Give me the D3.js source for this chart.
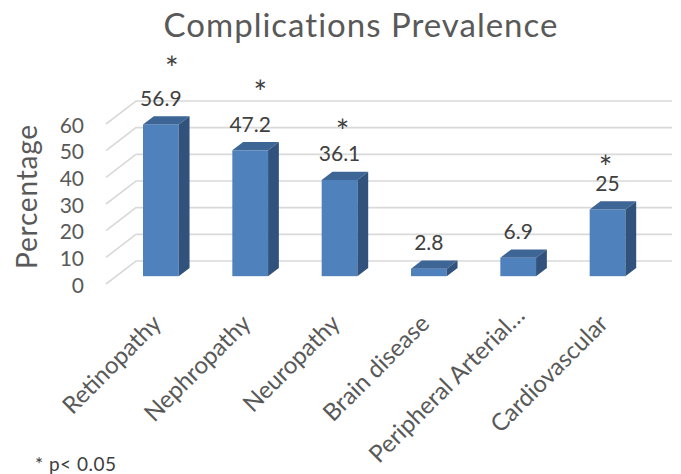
<!DOCTYPE html>
<html>
<head>
<meta charset="utf-8">
<script src="https://cdn.jsdelivr.net/npm/d3@7"></script>
<style>
  html, body { margin: 0; padding: 0; background: #fff; }
  svg { display: block; font-family: Lato, "Noto Sans", sans-serif; }
</style>
</head>
<body>
<svg id="chart" width="681" height="474"></svg>
<script>
// ---- data ----
const categories = ["Retinopathy", "Nephropathy", "Neuropathy", "Brain disease", "Peripheral Arterial\u2026", "Cardiovascular"];
const values = [56.9, 47.2, 36.1, 2.8, 6.9, 25];
const significant = [true, true, true, false, false, true];
const yTicks = [0, 10, 20, 30, 40, 50, 60];
const titleText = "Complications Prevalence";
const yTitle = "Percentage";
const footnote = "* p< 0.05";

// ---- layout ----
const svg = d3.select("#chart");
const depth = { x: 30, y: -23 };          // oblique offset of the back wall
const zFront = 0.34, zBack = 0.70;         // bar depth inside the plot box

const x = d3.scaleBand().domain(categories).range([106, 642])
  .paddingInner(0.6).paddingOuter(0.3);
const y = d3.scaleLinear().domain([0, 60]).range([284, 124]);

const colors = { front: "#4f81bd", top: "#3d6596", side: "#31527c", grid: "#d9d9d9" };

// gridlines: short diagonal on the side wall, then along the back wall
const gridG = svg.append("g");
gridG.selectAll("path").data(yTicks).join("path")
  .attr("fill", "none").attr("stroke", colors.grid).attr("stroke-width", 1.6)
  .attr("d", v => {
    const p = d3.path();
    p.moveTo(x.range()[0], y(v));
    p.lineTo(x.range()[0] + depth.x, y(v) + depth.y);
    p.lineTo(x.range()[1] + depth.x, y(v) + depth.y);
    return p.toString();
  });

// bars (front, top and side faces)
const bw = x.bandwidth();
const fx = d => x(d.c) + zFront * depth.x;
const fy = v => y(v) + zFront * depth.y;
const ddx = (zBack - zFront) * depth.x, ddy = (zBack - zFront) * depth.y;
const rows = categories.map((c, i) => ({ c, v: values[i], sig: significant[i] }));

const bars = svg.append("g").selectAll("g").data(rows).join("g");
bars.append("rect")
  .attr("x", d => fx(d)).attr("y", d => fy(d.v))
  .attr("width", bw).attr("height", d => fy(0) - fy(d.v))
  .attr("fill", colors.front);
bars.append("path").attr("fill", colors.top)
  .attr("d", d => {
    const x0 = fx(d), x1 = x0 + bw, yt = fy(d.v);
    return `M${x0},${yt}L${x1},${yt}L${x1 + ddx},${yt + ddy}L${x0 + ddx},${yt + ddy}Z`;
  });
bars.append("path").attr("fill", colors.side)
  .attr("d", d => {
    const x1 = fx(d) + bw, yt = fy(d.v), yb = fy(0);
    return `M${x1},${yt}L${x1 + ddx},${yt + ddy}L${x1 + ddx},${yb + ddy}L${x1},${yb}Z`;
  });

// value labels, with a significance asterisk set by hand above the marked ones
const labelGap = 18.5;
const starNudge = {
  "Retinopathy": [11, -26], "Nephropathy": [10, -28],
  "Neuropathy": [3, -18], "Cardiovascular": [-2, -12]
};
const labels = svg.append("g").selectAll("text").data(rows).join("text")
  .attr("text-anchor", "middle").attr("fill", "#404040");
labels.filter(d => d.sig).append("tspan")
  .attr("x", d => fx(d) + bw / 2 + starNudge[d.c][0])
  .attr("y", d => fy(d.v) - labelGap + starNudge[d.c][1])
  .attr("font-size", 32).text("*");
labels.append("tspan")
  .attr("x", d => fx(d) + bw / 2).attr("y", d => fy(d.v) - labelGap)
  .attr("font-size", 21).text(d => d.v);

// value axis labels
const yAxis = svg.append("g").attr("transform", "translate(84,1.5)")
  .call(d3.axisLeft(y).tickValues(yTicks).tickSize(0).tickPadding(0));
yAxis.select(".domain").remove();
yAxis.selectAll("text").attr("font-size", 21).attr("fill", "#595959")
  .attr("font-family", "Lato, sans-serif");

// category axis labels, rotated; the truncated one sits a little higher
const labelShift = { "Peripheral Arterial\u2026": [6, -8] };
const xAxis = svg.append("g").attr("transform", `translate(${zFront * depth.x},0)`)
  .call(d3.axisBottom(x).tickSize(0).tickPadding(0));
xAxis.select(".domain").remove();
xAxis.selectAll("text")
  .attr("font-size", 24).attr("fill", "#595959").attr("font-family", "Lato, sans-serif")
  .attr("text-anchor", "end").attr("dy", null).attr("y", null)
  .attr("transform", d => {
    const s = labelShift[d] || [0, 0];
    return `translate(${2 + s[0]},${325 + s[1]}) rotate(-45)`;
  });

// titles
svg.append("text").attr("x", 361).attr("y", 37).attr("text-anchor", "middle")
  .attr("font-size", 33).attr("letter-spacing", 1).attr("fill", "#595959").text(titleText);
svg.append("text").attr("transform", "translate(37,196.5) rotate(-90)")
  .attr("text-anchor", "middle").attr("font-size", 28).attr("letter-spacing", 0.8)
  .attr("fill", "#595959").text(yTitle);
svg.append("text").attr("x", 35).attr("y", 471)
  .attr("font-size", 19).attr("letter-spacing", 0.5).attr("fill", "#404040").text(footnote);
</script>
</body>
</html>
